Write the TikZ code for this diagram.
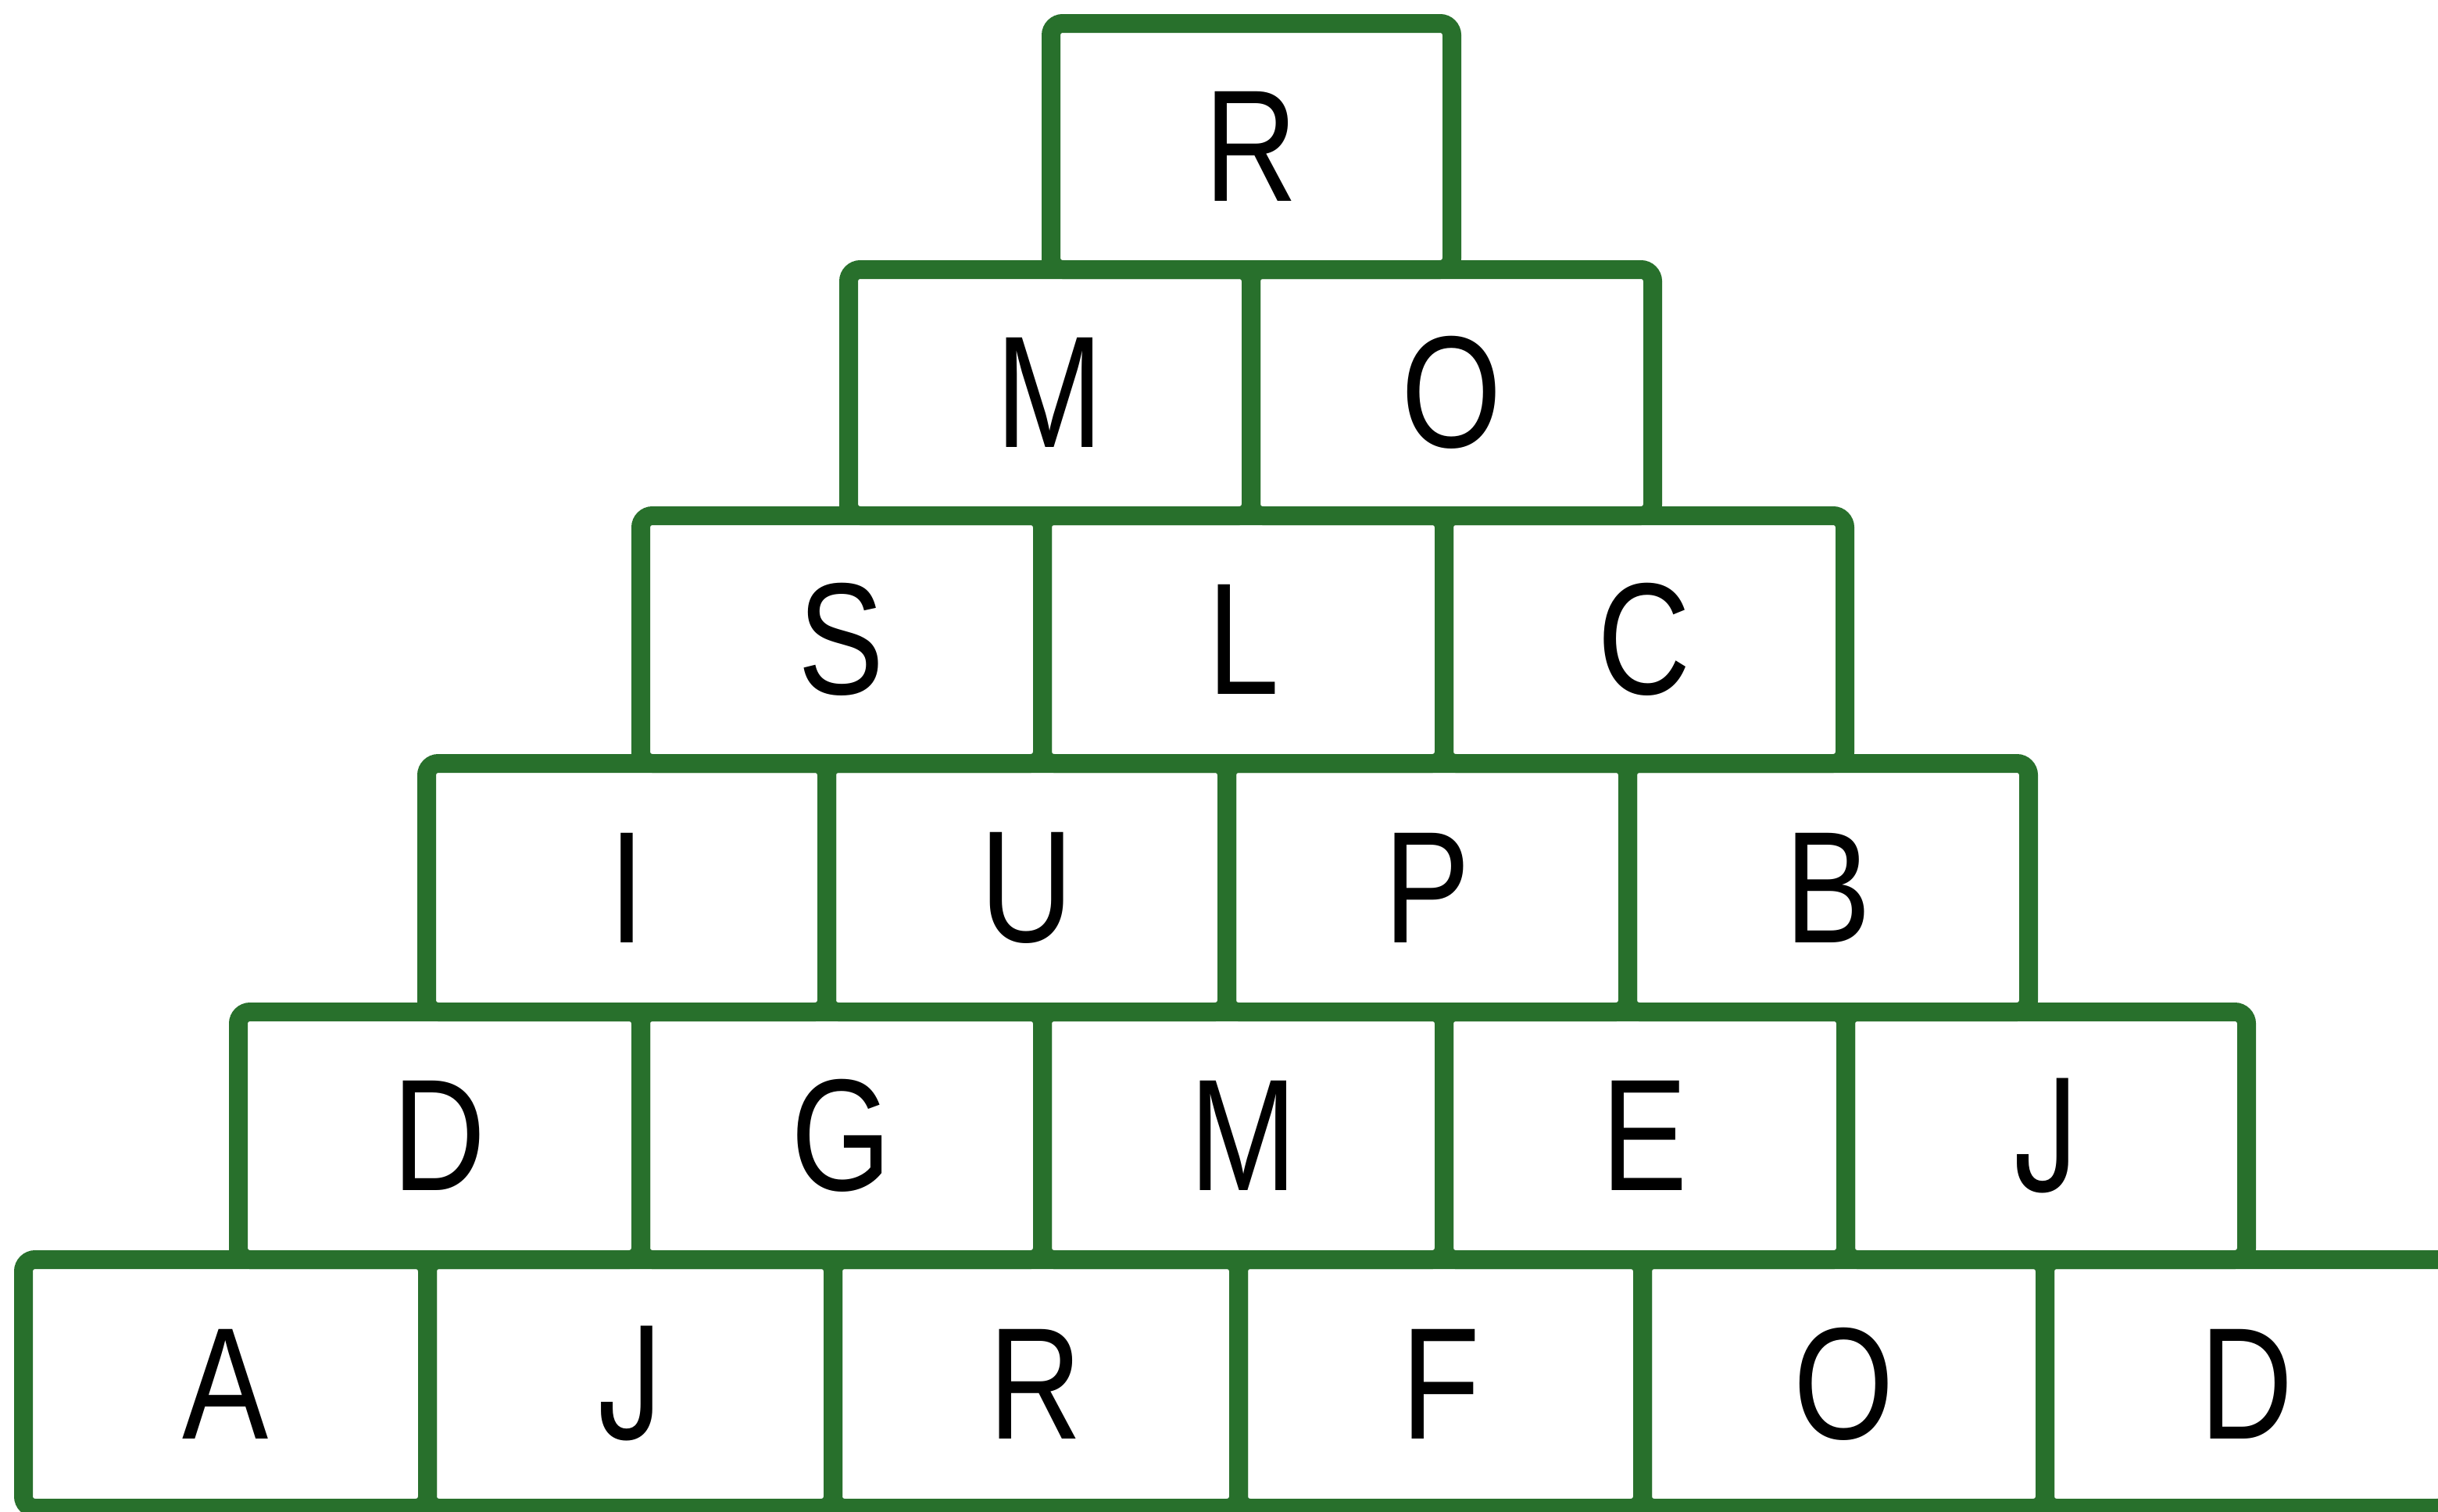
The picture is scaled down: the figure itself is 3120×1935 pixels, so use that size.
\documentclass[tikz,border=0pt]{standalone}
\usepackage{fontspec}
\newfontfamily\letterfont[FakeStretch=0.81]{Liberation Sans}
\newfontfamily\jfont[FakeStretch=0.82]{TeX Gyre Heros}
\newcommand\letterJ{{\jfont\fontsize{56}{60}\selectfont J}}
\definecolor{brickgreen}{RGB}{40,112,44}
\tikzset{
  brick/.style={draw=brickgreen, line width=2.4mm, rounded corners=1.5mm,
    inner sep=0pt, outer sep=0pt, text=black,
    font=\letterfont\fontsize{58}{60}\selectfont},
}
\newcommand\brickbox[6]{% name, x1, y1, x2, y2, letter
  \node[brick, minimum width={0.1mm*(#4-#2)}, minimum height={0.1mm*(#5-#3)}]
    (#1) at ({(#2+#4)/2},{(#3+#5)/2}) {#6};
}
\begin{document}
\begin{tikzpicture}[x=0.1mm,y=-0.1mm]
\fill[white] (0,0) rectangle (3120,1935);
\useasboundingbox (0,0) rectangle (3120,1935);
\clip (0,0) rectangle (3120,1935);
% row 1
\brickbox{r1a}{1345}{30}{1858}{345}{R}
% row 2
\brickbox{r2a}{1086}{345}{1601}{660}{M}
\brickbox{r2b}{1601}{345}{2115}{660}{O}
% row 3
\brickbox{r3a}{820}{660}{1334}{977}{S}
\brickbox{r3b}{1334}{660}{1848}{977}{L}
\brickbox{r3c}{1848}{660}{2361}{977}{C}
% row 4
\brickbox{r4a}{546}{977}{1058}{1295}{I}
\brickbox{r4b}{1058}{977}{1570}{1295}{U}
\brickbox{r4c}{1570}{977}{2083}{1295}{P}
\brickbox{r4d}{2083}{977}{2596}{1295}{B}
% row 5
\brickbox{r5a}{305}{1295}{820}{1612}{D}
\brickbox{r5b}{820}{1295}{1334}{1612}{G}
\brickbox{r5c}{1334}{1295}{1848}{1612}{M}
\brickbox{r5d}{1848}{1295}{2362}{1612}{E}
\brickbox{r5e}{2362}{1295}{2875}{1612}{\letterJ}
% row 6
\brickbox{r6a}{30}{1612}{547}{1930}{A}
\brickbox{r6b}{547}{1612}{1066}{1930}{\letterJ}
\brickbox{r6c}{1066}{1612}{1585}{1930}{R}
\brickbox{r6d}{1585}{1612}{2102}{1930}{F}
\brickbox{r6e}{2102}{1612}{2617}{1930}{O}
\brickbox{r6f}{2617}{1612}{3134}{1930}{D}
\end{tikzpicture}
\end{document}
